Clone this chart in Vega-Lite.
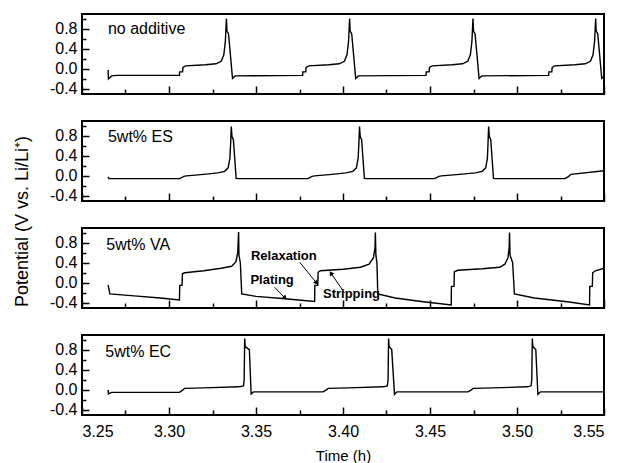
{
  "$schema": "https://vega.github.io/schema/vega-lite/v6.json",
  "padding": {"left": 12, "top": 13, "right": 12, "bottom": 1},
  "background": "white",
  "bounds": "flush",
  "config": {
    "view": {"stroke": "black", "strokeWidth": 2},
    "font": "Liberation Sans",
    "axis": {"domain": false, "grid": false, "labelFont": "Liberation Sans", "titleFont": "Liberation Sans", "labelColor": "black", "titleColor": "black", "tickColor": "black", "tickWidth": 1.5, "titleFontWeight": "normal", "labelFontSize": 16, "titleFontSize": 15}
  },
  "spacing": 27,
  "datasets": {
    "curves": [
      {"panel": "A", "t": 3.2650, "v": -0.02}, {"panel": "A", "t": 3.2652, "v": -0.20}, {"panel": "A", "t": 3.2670, "v": -0.14}, {"panel": "A", "t": 3.2700, "v": -0.13},
      {"panel": "A", "t": 3.3060, "v": -0.13}, {"panel": "A", "t": 3.3061, "v": -0.06}, {"panel": "A", "t": 3.3078, "v": -0.06}, {"panel": "A", "t": 3.3080, "v": 0.03},
      {"panel": "A", "t": 3.3095, "v": 0.06}, {"panel": "A", "t": 3.3210, "v": 0.08}, {"panel": "A", "t": 3.3270, "v": 0.10}, {"panel": "A", "t": 3.3300, "v": 0.15},
      {"panel": "A", "t": 3.3315, "v": 0.28}, {"panel": "A", "t": 3.3324, "v": 0.55}, {"panel": "A", "t": 3.3330, "v": 1.00}, {"panel": "A", "t": 3.3333, "v": 0.75},
      {"panel": "A", "t": 3.3342, "v": 0.70}, {"panel": "A", "t": 3.3365, "v": -0.19}, {"panel": "A", "t": 3.3380, "v": -0.14}, {"panel": "A", "t": 3.3768, "v": -0.13},
      {"panel": "A", "t": 3.3769, "v": -0.06}, {"panel": "A", "t": 3.3786, "v": -0.06}, {"panel": "A", "t": 3.3788, "v": 0.03}, {"panel": "A", "t": 3.3803, "v": 0.06},
      {"panel": "A", "t": 3.3918, "v": 0.08}, {"panel": "A", "t": 3.3978, "v": 0.10}, {"panel": "A", "t": 3.4008, "v": 0.15}, {"panel": "A", "t": 3.4023, "v": 0.28},
      {"panel": "A", "t": 3.4032, "v": 0.55}, {"panel": "A", "t": 3.4038, "v": 1.00}, {"panel": "A", "t": 3.4041, "v": 0.75}, {"panel": "A", "t": 3.4050, "v": 0.70},
      {"panel": "A", "t": 3.4073, "v": -0.19}, {"panel": "A", "t": 3.4088, "v": -0.14}, {"panel": "A", "t": 3.4477, "v": -0.13}, {"panel": "A", "t": 3.4478, "v": -0.06},
      {"panel": "A", "t": 3.4495, "v": -0.06}, {"panel": "A", "t": 3.4497, "v": 0.03}, {"panel": "A", "t": 3.4512, "v": 0.06}, {"panel": "A", "t": 3.4627, "v": 0.08},
      {"panel": "A", "t": 3.4687, "v": 0.10}, {"panel": "A", "t": 3.4717, "v": 0.15}, {"panel": "A", "t": 3.4732, "v": 0.28}, {"panel": "A", "t": 3.4741, "v": 0.55},
      {"panel": "A", "t": 3.4747, "v": 1.00}, {"panel": "A", "t": 3.4750, "v": 0.75}, {"panel": "A", "t": 3.4759, "v": 0.70}, {"panel": "A", "t": 3.4782, "v": -0.19},
      {"panel": "A", "t": 3.4797, "v": -0.14}, {"panel": "A", "t": 3.5182, "v": -0.13}, {"panel": "A", "t": 3.5183, "v": -0.06}, {"panel": "A", "t": 3.5200, "v": -0.06},
      {"panel": "A", "t": 3.5202, "v": 0.03}, {"panel": "A", "t": 3.5217, "v": 0.06}, {"panel": "A", "t": 3.5332, "v": 0.08}, {"panel": "A", "t": 3.5392, "v": 0.10},
      {"panel": "A", "t": 3.5422, "v": 0.15}, {"panel": "A", "t": 3.5437, "v": 0.28}, {"panel": "A", "t": 3.5446, "v": 0.55}, {"panel": "A", "t": 3.5452, "v": 1.00},
      {"panel": "A", "t": 3.5455, "v": 0.75}, {"panel": "A", "t": 3.5464, "v": 0.70}, {"panel": "A", "t": 3.5487, "v": -0.19}, {"panel": "A", "t": 3.5500, "v": -0.15},

      {"panel": "B", "t": 3.2650, "v": -0.02}, {"panel": "B", "t": 3.2655, "v": -0.055}, {"panel": "B", "t": 3.3060, "v": -0.055}, {"panel": "B", "t": 3.3075, "v": -0.03},
      {"panel": "B", "t": 3.3085, "v": -0.01}, {"panel": "B", "t": 3.3100, "v": 0.00}, {"panel": "B", "t": 3.3200, "v": 0.03}, {"panel": "B", "t": 3.3280, "v": 0.06},
      {"panel": "B", "t": 3.3320, "v": 0.09}, {"panel": "B", "t": 3.3340, "v": 0.16}, {"panel": "B", "t": 3.3350, "v": 0.35}, {"panel": "B", "t": 3.3355, "v": 0.70},
      {"panel": "B", "t": 3.3358, "v": 0.98}, {"panel": "B", "t": 3.3362, "v": 0.78}, {"panel": "B", "t": 3.3370, "v": 0.72}, {"panel": "B", "t": 3.3386, "v": -0.05},
      {"panel": "B", "t": 3.3400, "v": -0.055}, {"panel": "B", "t": 3.3797, "v": -0.055}, {"panel": "B", "t": 3.3812, "v": -0.03}, {"panel": "B", "t": 3.3822, "v": -0.01},
      {"panel": "B", "t": 3.3837, "v": 0.00}, {"panel": "B", "t": 3.3937, "v": 0.03}, {"panel": "B", "t": 3.4017, "v": 0.06}, {"panel": "B", "t": 3.4057, "v": 0.09},
      {"panel": "B", "t": 3.4077, "v": 0.16}, {"panel": "B", "t": 3.4087, "v": 0.35}, {"panel": "B", "t": 3.4092, "v": 0.70}, {"panel": "B", "t": 3.4095, "v": 0.98},
      {"panel": "B", "t": 3.4099, "v": 0.78}, {"panel": "B", "t": 3.4107, "v": 0.72}, {"panel": "B", "t": 3.4123, "v": -0.05}, {"panel": "B", "t": 3.4137, "v": -0.055},
      {"panel": "B", "t": 3.4526, "v": -0.055}, {"panel": "B", "t": 3.4541, "v": -0.03}, {"panel": "B", "t": 3.4551, "v": -0.01}, {"panel": "B", "t": 3.4566, "v": 0.00},
      {"panel": "B", "t": 3.4670, "v": 0.03}, {"panel": "B", "t": 3.4760, "v": 0.06}, {"panel": "B", "t": 3.4800, "v": 0.09}, {"panel": "B", "t": 3.4820, "v": 0.16},
      {"panel": "B", "t": 3.4830, "v": 0.35}, {"panel": "B", "t": 3.4834, "v": 0.70}, {"panel": "B", "t": 3.4837, "v": 0.98}, {"panel": "B", "t": 3.4841, "v": 0.78},
      {"panel": "B", "t": 3.4849, "v": 0.72}, {"panel": "B", "t": 3.4865, "v": -0.05}, {"panel": "B", "t": 3.4880, "v": -0.055}, {"panel": "B", "t": 3.5274, "v": -0.055},
      {"panel": "B", "t": 3.5289, "v": -0.03}, {"panel": "B", "t": 3.5300, "v": 0.00}, {"panel": "B", "t": 3.5310, "v": 0.03}, {"panel": "B", "t": 3.5500, "v": 0.10},

      {"panel": "C", "t": 3.2650, "v": -0.04}, {"panel": "C", "t": 3.2660, "v": -0.22}, {"panel": "C", "t": 3.2800, "v": -0.26}, {"panel": "C", "t": 3.2950, "v": -0.30},
      {"panel": "C", "t": 3.3060, "v": -0.34}, {"panel": "C", "t": 3.3062, "v": -0.05}, {"panel": "C", "t": 3.3075, "v": -0.05}, {"panel": "C", "t": 3.3077, "v": 0.18},
      {"panel": "C", "t": 3.3090, "v": 0.20}, {"panel": "C", "t": 3.3200, "v": 0.24}, {"panel": "C", "t": 3.3300, "v": 0.29}, {"panel": "C", "t": 3.3360, "v": 0.33},
      {"panel": "C", "t": 3.3385, "v": 0.42}, {"panel": "C", "t": 3.3395, "v": 0.60}, {"panel": "C", "t": 3.3400, "v": 1.01}, {"panel": "C", "t": 3.3402, "v": 0.55},
      {"panel": "C", "t": 3.3410, "v": 0.40}, {"panel": "C", "t": 3.3418, "v": -0.22}, {"panel": "C", "t": 3.3500, "v": -0.27}, {"panel": "C", "t": 3.3650, "v": -0.31},
      {"panel": "C", "t": 3.3837, "v": -0.37}, {"panel": "C", "t": 3.3838, "v": -0.05}, {"panel": "C", "t": 3.3855, "v": -0.05}, {"panel": "C", "t": 3.3857, "v": 0.21},
      {"panel": "C", "t": 3.3870, "v": 0.24}, {"panel": "C", "t": 3.4000, "v": 0.27}, {"panel": "C", "t": 3.4100, "v": 0.31}, {"panel": "C", "t": 3.4150, "v": 0.37},
      {"panel": "C", "t": 3.4175, "v": 0.50}, {"panel": "C", "t": 3.4184, "v": 0.70}, {"panel": "C", "t": 3.4186, "v": 1.00}, {"panel": "C", "t": 3.4189, "v": 0.55},
      {"panel": "C", "t": 3.4195, "v": 0.40}, {"panel": "C", "t": 3.4200, "v": -0.22}, {"panel": "C", "t": 3.4300, "v": -0.30}, {"panel": "C", "t": 3.4450, "v": -0.37},
      {"panel": "C", "t": 3.4622, "v": -0.44}, {"panel": "C", "t": 3.4623, "v": -0.07}, {"panel": "C", "t": 3.4638, "v": -0.07}, {"panel": "C", "t": 3.4640, "v": 0.22},
      {"panel": "C", "t": 3.4660, "v": 0.25}, {"panel": "C", "t": 3.4800, "v": 0.28}, {"panel": "C", "t": 3.4900, "v": 0.31}, {"panel": "C", "t": 3.4930, "v": 0.37},
      {"panel": "C", "t": 3.4948, "v": 0.50}, {"panel": "C", "t": 3.4955, "v": 0.70}, {"panel": "C", "t": 3.4957, "v": 1.00}, {"panel": "C", "t": 3.4960, "v": 0.55},
      {"panel": "C", "t": 3.4975, "v": 0.40}, {"panel": "C", "t": 3.4985, "v": -0.22}, {"panel": "C", "t": 3.5100, "v": -0.30}, {"panel": "C", "t": 3.5300, "v": -0.38},
      {"panel": "C", "t": 3.5417, "v": -0.44}, {"panel": "C", "t": 3.5418, "v": -0.07}, {"panel": "C", "t": 3.5433, "v": -0.07}, {"panel": "C", "t": 3.5435, "v": 0.20},
      {"panel": "C", "t": 3.5450, "v": 0.24}, {"panel": "C", "t": 3.5500, "v": 0.29},

      {"panel": "D", "t": 3.2650, "v": 0.00}, {"panel": "D", "t": 3.2652, "v": -0.08}, {"panel": "D", "t": 3.2670, "v": -0.05}, {"panel": "D", "t": 3.3060, "v": -0.05},
      {"panel": "D", "t": 3.3080, "v": 0.00}, {"panel": "D", "t": 3.3090, "v": 0.03}, {"panel": "D", "t": 3.3200, "v": 0.04}, {"panel": "D", "t": 3.3400, "v": 0.06},
      {"panel": "D", "t": 3.3428, "v": 0.08}, {"panel": "D", "t": 3.3432, "v": 0.20}, {"panel": "D", "t": 3.3435, "v": 1.02}, {"panel": "D", "t": 3.3438, "v": 0.86},
      {"panel": "D", "t": 3.3462, "v": 0.80}, {"panel": "D", "t": 3.3472, "v": -0.08}, {"panel": "D", "t": 3.3485, "v": -0.04}, {"panel": "D", "t": 3.3885, "v": -0.04},
      {"panel": "D", "t": 3.3905, "v": 0.00}, {"panel": "D", "t": 3.3915, "v": 0.03}, {"panel": "D", "t": 3.4030, "v": 0.04}, {"panel": "D", "t": 3.4230, "v": 0.06},
      {"panel": "D", "t": 3.4255, "v": 0.08}, {"panel": "D", "t": 3.4259, "v": 0.20}, {"panel": "D", "t": 3.4262, "v": 1.02}, {"panel": "D", "t": 3.4265, "v": 0.86},
      {"panel": "D", "t": 3.4280, "v": 0.80}, {"panel": "D", "t": 3.4296, "v": -0.09}, {"panel": "D", "t": 3.4310, "v": -0.04}, {"panel": "D", "t": 3.4718, "v": -0.04},
      {"panel": "D", "t": 3.4738, "v": 0.00}, {"panel": "D", "t": 3.4748, "v": 0.03}, {"panel": "D", "t": 3.4860, "v": 0.04}, {"panel": "D", "t": 3.5060, "v": 0.06},
      {"panel": "D", "t": 3.5081, "v": 0.08}, {"panel": "D", "t": 3.5085, "v": 0.20}, {"panel": "D", "t": 3.5088, "v": 1.02}, {"panel": "D", "t": 3.5091, "v": 0.86},
      {"panel": "D", "t": 3.5108, "v": 0.80}, {"panel": "D", "t": 3.5120, "v": -0.09}, {"panel": "D", "t": 3.5135, "v": -0.04}, {"panel": "D", "t": 3.5500, "v": -0.04}
    ],
    "labels": [
      {"panel": "A", "label": "no additive", "t": 3.2649, "v": 0.79},
      {"panel": "B", "label": "5wt% ES", "t": 3.2649, "v": 0.77},
      {"panel": "C", "label": "5wt% VA", "t": 3.2640, "v": 0.76},
      {"panel": "D", "label": "5wt% EC", "t": 3.2634, "v": 0.75}
    ],
    "notes": [
      {"label": "Relaxation", "t": 3.3471, "v": 0.53},
      {"label": "Plating", "t": 3.3468, "v": 0.06},
      {"label": "Stripping", "t": 3.3885, "v": -0.23}
    ],
    "arrows": [
      {"name": "Relaxation", "t": 3.3751, "v": 0.41, "t2": 3.3845, "v2": 0.01},
      {"name": "Plating", "t": 3.3607, "v": -0.09, "t2": 3.3664, "v2": -0.29},
      {"name": "Stripping", "t": 3.4009, "v": -0.20, "t2": 3.3933, "v2": 0.18}
    ]
  },
  "vconcat": [
    {
      "width": 522, "height": 80,
      "encoding": {
        "x": {"field": "t", "type": "quantitative", "scale": {"domain": [3.25, 3.55], "nice": false, "zero": false},
              "axis": {"title": null, "labels": false, "values": [3.25, 3.275, 3.3, 3.325, 3.35, 3.375, 3.4, 3.425, 3.45, 3.475, 3.5, 3.525, 3.55],
                       "tickSize": {"condition": {"test": "round(datum.value*1000) % 50 == 0", "value": -8}, "value": -5}}},
        "y": {"field": "v", "type": "quantitative", "scale": {"domain": [-0.5, 1.09], "nice": false, "zero": false},
              "axis": {"title": null, "values": [-0.4, -0.2, 0, 0.2, 0.4, 0.6, 0.8, 1.0], "labelPadding": 12,
                       "tickSize": {"condition": {"test": "abs(round(datum.value*10)) % 4 == 0", "value": -7}, "value": -4},
                       "labelExpr": "abs(round(datum.value*10)) % 4 == 0 ? replace(format(datum.value, '.1f'), '\u2212', '-') : ''"}}
      },
      "layer": [
        {"data": {"name": "curves"}, "transform": [{"filter": "datum.panel == 'A'"}], "mark": {"type": "line", "color": "black", "strokeWidth": 1.4, "clip": true}},
        {"data": {"name": "labels"}, "transform": [{"filter": "datum.panel == 'A'"}], "mark": {"type": "text", "align": "left", "baseline": "middle", "fontSize": 16, "color": "black", "font": "Liberation Sans"}, "encoding": {"text": {"field": "label"}}}
      ]
    },
    {
      "width": 522, "height": 80,
      "encoding": {
        "x": {"field": "t", "type": "quantitative", "scale": {"domain": [3.25, 3.55], "nice": false, "zero": false},
              "axis": {"title": null, "labels": false, "values": [3.25, 3.275, 3.3, 3.325, 3.35, 3.375, 3.4, 3.425, 3.45, 3.475, 3.5, 3.525, 3.55],
                       "tickSize": {"condition": {"test": "round(datum.value*1000) % 50 == 0", "value": -8}, "value": -5}}},
        "y": {"field": "v", "type": "quantitative", "scale": {"domain": [-0.5, 1.09], "nice": false, "zero": false},
              "axis": {"title": "Potential (V vs. Li/Li\u207a)", "titleFontSize": 18, "titleY": 100, "titlePadding": 18, "values": [-0.4, -0.2, 0, 0.2, 0.4, 0.6, 0.8, 1.0], "labelPadding": 12,
                       "tickSize": {"condition": {"test": "abs(round(datum.value*10)) % 4 == 0", "value": -7}, "value": -4},
                       "labelExpr": "abs(round(datum.value*10)) % 4 == 0 ? replace(format(datum.value, '.1f'), '\u2212', '-') : ''"}}
      },
      "layer": [
        {"data": {"name": "curves"}, "transform": [{"filter": "datum.panel == 'B'"}], "mark": {"type": "line", "color": "black", "strokeWidth": 1.4, "clip": true}},
        {"data": {"name": "labels"}, "transform": [{"filter": "datum.panel == 'B'"}], "mark": {"type": "text", "align": "left", "baseline": "middle", "fontSize": 16, "color": "black", "font": "Liberation Sans"}, "encoding": {"text": {"field": "label"}}}
      ]
    },
    {
      "width": 522, "height": 80,
      "encoding": {
        "x": {"field": "t", "type": "quantitative", "scale": {"domain": [3.25, 3.55], "nice": false, "zero": false},
              "axis": {"title": null, "labels": false, "values": [3.25, 3.275, 3.3, 3.325, 3.35, 3.375, 3.4, 3.425, 3.45, 3.475, 3.5, 3.525, 3.55],
                       "tickSize": {"condition": {"test": "round(datum.value*1000) % 50 == 0", "value": -8}, "value": -5}}},
        "y": {"field": "v", "type": "quantitative", "scale": {"domain": [-0.5, 1.09], "nice": false, "zero": false},
              "axis": {"title": null, "values": [-0.4, -0.2, 0, 0.2, 0.4, 0.6, 0.8, 1.0], "labelPadding": 12,
                       "tickSize": {"condition": {"test": "abs(round(datum.value*10)) % 4 == 0", "value": -7}, "value": -4},
                       "labelExpr": "abs(round(datum.value*10)) % 4 == 0 ? replace(format(datum.value, '.1f'), '\u2212', '-') : ''"}}
      },
      "layer": [
        {"data": {"name": "curves"}, "transform": [{"filter": "datum.panel == 'C'"}], "mark": {"type": "line", "color": "black", "strokeWidth": 1.4, "clip": true}},
        {"data": {"name": "labels"}, "transform": [{"filter": "datum.panel == 'C'"}], "mark": {"type": "text", "align": "left", "baseline": "middle", "fontSize": 16, "color": "black", "font": "Liberation Sans"}, "encoding": {"text": {"field": "label"}}},
        {"data": {"name": "notes"}, "mark": {"type": "text", "align": "left", "baseline": "middle", "fontSize": 13, "fontWeight": "bold", "color": "black", "font": "Liberation Sans"}, "encoding": {"text": {"field": "label"}}},
        {"data": {"name": "arrows"}, "mark": {"type": "rule", "color": "black", "strokeWidth": 1}, "encoding": {"x2": {"field": "t2"}, "y2": {"field": "v2"}}},
        {"data": {"name": "arrows"}, "transform": [{"filter": "datum.name == 'Relaxation'"}], "mark": {"type": "point", "shape": "triangle", "filled": true, "color": "black", "opacity": 1, "size": 28, "angle": 142}, "encoding": {"x": {"field": "t2", "type": "quantitative"}, "y": {"field": "v2", "type": "quantitative"}}},
        {"data": {"name": "arrows"}, "transform": [{"filter": "datum.name == 'Plating'"}], "mark": {"type": "point", "shape": "triangle", "filled": true, "color": "black", "opacity": 1, "size": 28, "angle": 135}, "encoding": {"x": {"field": "t2", "type": "quantitative"}, "y": {"field": "v2", "type": "quantitative"}}},
        {"data": {"name": "arrows"}, "transform": [{"filter": "datum.name == 'Stripping'"}], "mark": {"type": "point", "shape": "triangle", "filled": true, "color": "black", "opacity": 1, "size": 28, "angle": 326}, "encoding": {"x": {"field": "t2", "type": "quantitative"}, "y": {"field": "v2", "type": "quantitative"}}}
      ]
    },
    {
      "width": 522, "height": 80,
      "encoding": {
        "x": {"field": "t", "type": "quantitative", "scale": {"domain": [3.25, 3.55], "nice": false, "zero": false},
              "axis": {"title": "Time (h)", "titlePadding": 9, "labelPadding": 16, "values": [3.25, 3.275, 3.3, 3.325, 3.35, 3.375, 3.4, 3.425, 3.45, 3.475, 3.5, 3.525, 3.55],
                       "tickSize": {"condition": {"test": "round(datum.value*1000) % 50 == 0", "value": -8}, "value": -5},
                       "labelExpr": "round(datum.value*1000) % 50 == 0 ? format(datum.value, '.2f') : ''"}},
        "y": {"field": "v", "type": "quantitative", "scale": {"domain": [-0.5, 1.09], "nice": false, "zero": false},
              "axis": {"title": null, "values": [-0.4, -0.2, 0, 0.2, 0.4, 0.6, 0.8, 1.0], "labelPadding": 12,
                       "tickSize": {"condition": {"test": "abs(round(datum.value*10)) % 4 == 0", "value": -7}, "value": -4},
                       "labelExpr": "abs(round(datum.value*10)) % 4 == 0 ? replace(format(datum.value, '.1f'), '\u2212', '-') : ''"}}
      },
      "layer": [
        {"data": {"name": "curves"}, "transform": [{"filter": "datum.panel == 'D'"}], "mark": {"type": "line", "color": "black", "strokeWidth": 1.4, "clip": true}},
        {"data": {"name": "labels"}, "transform": [{"filter": "datum.panel == 'D'"}], "mark": {"type": "text", "align": "left", "baseline": "middle", "fontSize": 16, "color": "black", "font": "Liberation Sans"}, "encoding": {"text": {"field": "label"}}}
      ]
    }
  ]
}
